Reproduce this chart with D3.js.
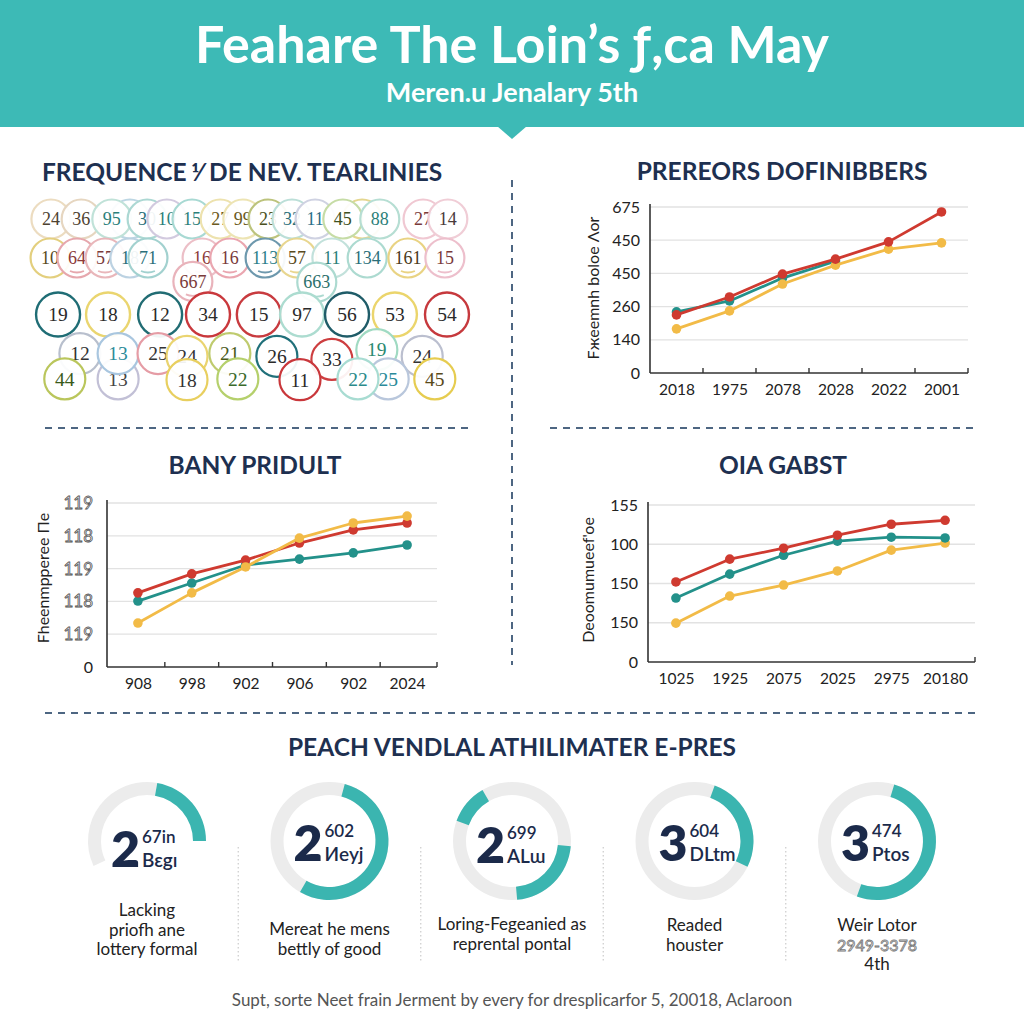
<!DOCTYPE html>
<html><head><meta charset="utf-8">
<script src="https://cdn.jsdelivr.net/npm/d3@7"></script>
<style>body{margin:0;background:#fff}svg{display:block}</style>
</head><body>
<svg id="c" width="1024" height="1024"></svg>
<script>
// ---------- DATA ----------
const titleText = "Feahare The Loin’s ƒ,ca May";
const subtitleText = "Meren.u Jenalary 5th";
const sectionTitles = ["FREQUENCE ⅟ DE NEV. TEARLINIES", "PREREORS DOFINIBBERS", "BANY PRIDULT", "OIA GABST", "PEACH VENDLAL ATHILIMATER E-PRES"];
const footerText = "Supt, sorte Neet frain Jerment by every for dresplicarfor 5, 20018, Aclaroon";

// bubbles (drawing order): label, column position (0-100), row position, ring colour, text colour, size class
const bubbleLabels = ["","","24","36","95","30","10","15","27","99","23","32","11","45","88","27","14",
  "10","64","57","18","71","16","16","113","57","11","134","161","15","667","663",
  "19","18","12","34","15","97","56","53","54",
  "13","12","13","25","24","21","26","33","19","24",
  "44","18","22","11","25","22","45"];
const bubbleCols = [21.4,76.7,2.6,9.8,17.1,25.5,30.2,36.2,42.9,48.3,54.3,60,65.5,72.1,80.9,91.2,97.1,
  2.4,8.8,15.5,21.4,25.7,38.6,45.2,53.6,61.2,69.5,77.9,87.6,96.4,36.4,65.9,
  4.3,16.2,28.6,40,52.1,62.4,73.1,84.5,96.9,
  18.6,9.5,18.6,28.1,35,45.2,56.4,69.5,80.2,91,
  5.9,35,47.1,61.9,82.9,75.7,94.0];
const bubbleRows = [0,0,0,0,0,0,0,0,0,0,0,0,0,0,0,0,0,
  1,1,1,1,1,1,1,1,1,1,1,1,1,1.6,1.62,
  2.45,2.45,2.45,2.45,2.45,2.45,2.45,2.45,2.45,
  4.1,3.45,3.45,3.45,3.52,3.45,3.52,3.6,3.35,3.52,
  4.1,4.12,4.1,4.12,4.1,4.1,4.1];
const bubbleRing = ["#bcd6e3","#e4d68f","#ecdcc0","#e6d6c0","#c0e2d8","#acd8d3","#d2cadf","#a8d9d3","#ede2ae","#ede4b3","#bcc37c","#bcdfd8","#cfd2e2","#c6dca6","#b6ded3","#f0c8d2","#f0cdd6",
  "#e3cf7e","#e6a7ad","#e9b6ba","#bcd2e2","#a2d1cf","#ecbfc7","#eaa6b0","#6d98ad","#e8d68f","#c2e1db","#acdad0","#e9d383","#edbfcc","#e9b3bb","#acdad0",
  "#1f6d75","#ead56f","#216c73","#c9383c","#c83b3f","#acdcd0","#1f5c68","#ebd56c","#c6393d",
  "#c2c0d6","#b8bfcd","#a9c6df","#e59ca5","#ead470","#bfcb6e","#20707a","#cd3e40","#a0dac2","#bbbfcf",
  "#bac65c","#e8cf5f","#b5d06c","#c9373b","#b9c7dc","#a8dcd2","#e6cc50"];
const bubbleInk = ["#333","#333","#4e4230","#4e4230","#2b7f7a","#2b6f7a","#2b7f7a","#2b7f7a","#6b5a20","#6b5a20","#4a5020","#2b6f7a","#2b6f8a","#3e5020","#2b7f7a","#7a3a3a","#4a3a3a",
  "#5a4a20","#8b3a3a","#7a3a3a","#2b6f7a","#2b6f7a","#8b3a3a","#7a3a3a","#2b7f8a","#5a4a20","#2b7f7a","#2b6f7a","#4a3a20","#7a3a3a","#7a3a3a","#2b6f6a",
  "#2a2a2a","#2a2a2a","#2a2a2a","#2a2a2a","#2a2a2a","#2a2a2a","#2a2a2a","#2a2a2a","#2a2a2a",
  "#444","#333","#2b8c9a","#333","#333","#4a5a1a","#2a2a2a","#2a2a2a","#2a8a70","#333",
  "#3a5a1a","#333","#3a6a2a","#2a2a2a","#2a8a9a","#2a8a8a","#5a4a1a"];
const bubbleSize = [0,0,0,0,0,0,0,0,0,0,0,0,0,0,0,0,0,
  0,0,0,0,0,0,0,0,0,0,0,0,0,0,0,
  2,2,2,2,2,2,2,2,2,
  1,1,1,1,1,1,1,1,1,1,
  1,1,1,1,1,1,1];

// top-right chart
const trCategories = ["2018","1975","2078","2028","2022","2001"];
const trTickLabels = ["0","140","260","450","450","675"];
const trRed = [1.75,2.29,2.98,3.43,3.95,4.85];
const trTeal = [1.84,2.17,2.86,3.37,null,null];
const trYellow = [1.33,1.87,2.68,3.25,3.73,3.92];
const trYTitle = "Fжeemnh boloe  Λor";

// bottom-left chart
const blCategories = ["908","998","902","906","902","2024"];
const blTickLabels = ["0","119","118","119","118","119"];
const blRed = [2.26,2.84,3.26,3.78,4.18,4.39];
const blTeal = [2.01,2.56,3.11,3.29,3.48,3.72];
const blYellow = [1.34,2.26,3.05,3.93,4.39,4.60];
const blYTitle = "Fheenmpperee Πe";

// bottom-right chart
const brCategories = ["1025","1925","2075","2025","2975","20180"];
const brTickLabels = ["0","150","150","100","155"];
const brRed = [2.04,2.62,2.90,3.23,3.51,3.61];
const brTeal = [1.63,2.24,2.72,3.08,3.18,3.16];
const brYellow = [0.99,1.68,1.96,2.32,2.85,3.03];
const brYTitle = "Deoomumueef'oe";

// donuts
const donutBig = ["2","2","2","3","3"];
const donutSup = ["67in","602","699","604","474"];
const donutSub = ["Bɛgı","Иeyj","ALɯ","DLtm","Ptos"];
const donutArcs = [[[10,90]],[[15,210]],[[-70,-30],[95,175]],[[20,116]],[[17,200]]];
const donutTrack = [[-115,10],[0,360],[0,360],[0,360],[0,360]];
const donutCaptions = [["Lacking","priofh ane","lottery formal"],["Mereat he mens","bettly of good"],["Loring-Fegeanied as","reprental pontal"],["Readed","houster"],["Weir Lotor","2949-3378","4th"]];

// ---------- STYLE ----------
const TEAL = "#3dbab6", NAVY = "#1e3050", RED = "#cf3a30", GREEN = "#23918a", YEL = "#f2bb47";
const FONT = "Lato, 'Open Sans', sans-serif";
const svg = d3.select("#c");

// ---------- HEADER ----------
svg.append("rect").attr("x",0).attr("y",0).attr("width",1024).attr("height",127).attr("fill",TEAL);
svg.append("path").attr("d","M497,126 L527,126 L512,139 Z").attr("fill",TEAL);
svg.append("text").attr("x",512).attr("y",63).attr("text-anchor","middle")
  .attr("font-family",FONT).attr("font-weight",700).attr("font-size",52).attr("fill","#fff").text(titleText);
svg.append("text").attr("x",512).attr("y",102).attr("text-anchor","middle")
  .attr("font-family",FONT).attr("font-weight",700).attr("font-size",27).attr("fill","#fff").text(subtitleText);

// ---------- DIVIDERS ----------
const dash = (x1,y1,x2,y2)=>svg.append("line").attr("x1",x1).attr("y1",y1).attr("x2",x2).attr("y2",y2)
  .attr("stroke","#4d6682").attr("stroke-width",2).attr("stroke-dasharray","7,6");
dash(512,180,512,665);
dash(45,428,470,428);
dash(550,428,978,428);
dash(45,713,978,713);

// ---------- SECTION TITLES ----------
const secT = (t,x,y,anchor)=>svg.append("text").attr("x",x).attr("y",y).attr("text-anchor",anchor)
  .attr("font-family",FONT).attr("font-weight",700).attr("font-size",24.5).attr("fill",NAVY).text(t);
secT(sectionTitles[0],42,181,"start");
secT(sectionTitles[1],782,180,"middle");
secT(sectionTitles[2],255,474,"middle");
secT(sectionTitles[3],783,474,"middle");
secT(sectionTitles[4],512,756,"middle");

// ---------- BUBBLES ----------
const bx = d3.scaleLinear().domain([0,100]).range([40,460]);
const by = d3.scaleLinear().domain([0,1]).range([219,258]);
const bR = [19.5,20.5,22];
const bubbles = bubbleLabels.map((l,i)=>({l, c:bubbleCols[i], r:bubbleRows[i], ring:bubbleRing[i], ink:bubbleInk[i], s:bubbleSize[i]}));
const bg = svg.append("g");
const bn = bg.selectAll("g").data(bubbles).join("g").attr("transform",d=>`translate(${bx(d.c)},${by(d.r)})`);
bn.append("circle").attr("r",d=>bR[d.s]).attr("fill","#fff").attr("fill-opacity",0.93)
  .attr("stroke",d=>d.ring).attr("stroke-width",d=>d.s===2?2.4:2.2);
bn.append("text").attr("text-anchor","middle").attr("dy","0.35em")
  .attr("font-family","'Liberation Serif', serif").attr("font-size",d=>d.s===0?18:19.5)
  .attr("fill",d=>d.ink).text(d=>d.l);
bn.filter((d,i)=>d.r>=1 && d.r<2 && ["64","57","71","16","113","161","15","667","663"].includes(d.l))
  .append("path").attr("d","M-7,13 Q0,16 7,13").attr("fill","none").attr("stroke",d=>d.ring).attr("stroke-width",1.8);

// ---------- LINE CHARTS ----------
function lineChart(cfg){
  const g = svg.append("g");
  const x = d3.scalePoint().domain(d3.range(cfg.cats.length)).range(cfg.xr).padding(0.5);
  const y = d3.scaleLinear().domain([0,cfg.ylabels.length-1]).range(cfg.yr);
  g.selectAll("line.grid").data(d3.range(1,cfg.ylabels.length)).join("line").attr("class","grid")
    .attr("x1",cfg.ax0).attr("x2",cfg.ax1).attr("y1",d=>y(d)).attr("y2",d=>y(d))
    .attr("stroke","#e2e2e2").attr("stroke-width",1.3);
  g.append("line").attr("x1",cfg.ax0).attr("x2",cfg.ax0).attr("y1",y(0)).attr("y2",y(cfg.ylabels.length-1)-3).attr("stroke","#333").attr("stroke-width",1.6);
  g.append("line").attr("x1",cfg.ax0).attr("x2",cfg.ax1).attr("y1",y(0)).attr("y2",y(0)).attr("stroke","#333").attr("stroke-width",1.6);
  if(cfg.midTicks){
    const st = x.step();
    g.selectAll("line.mt").data(d3.range(cfg.cats.length-1)).join("line").attr("class","mt")
      .attr("x1",d=>x(d)+st/2).attr("x2",d=>x(d)+st/2).attr("y1",y(0)-5).attr("y2",y(0))
      .attr("stroke","#333").attr("stroke-width",1.4);
  }
  g.append("line").attr("x1",cfg.ax1).attr("x2",cfg.ax1).attr("y1",y(0)-5).attr("y2",y(0)).attr("stroke","#333").attr("stroke-width",1.4);
  const xa = g.append("g").attr("transform",`translate(0,${y(0)})`)
    .call(d3.axisBottom(x).tickFormat(i=>cfg.cats[i]).tickSize(0).tickPadding(cfg.xpad));
  xa.select(".domain").remove();
  xa.selectAll("text").attr("font-family",FONT).attr("font-size",15.5).attr("fill","#222");
  const ya = g.append("g").attr("transform",`translate(${cfg.ax0},0)`)
    .call(d3.axisLeft(y).tickValues(d3.range(cfg.ylabels.length)).tickFormat(i=>cfg.ylabels[i]).tickSize(0).tickPadding(cfg.ypad));
  ya.select(".domain").remove();
  ya.selectAll("text").attr("font-family",FONT).attr("font-size",16).attr("fill","#222");
  if(cfg.hollow){
    ya.selectAll("text").filter(i=>i>0).attr("fill","#fff").attr("stroke","#555").attr("stroke-width",0.8).attr("font-size",17);
  }
  g.append("text").attr("transform",`translate(${cfg.tx},${cfg.ty}) rotate(-90)`).attr("text-anchor","middle")
    .attr("font-family",FONT).attr("font-size",16).attr("fill","#222").text(cfg.title);
  const line = d3.line().defined(d=>d!=null).x((d,i)=>x(i)).y(d=>y(d));
  cfg.series.forEach(s=>{
    g.append("path").datum(s.v).attr("d",line).attr("fill","none").attr("stroke",s.c).attr("stroke-width",2.8).attr("stroke-linejoin","round");
    g.selectAll(null).data(s.v.map((v,i)=>({v,i})).filter(d=>d.v!=null)).join("circle")
      .attr("cx",d=>x(d.i)).attr("cy",d=>y(d.v)).attr("r",cfg.pr).attr("fill",s.c);
  });
}
lineChart({cats:trCategories, ylabels:trTickLabels, xr:[650,968], yr:[373,207], ax0:650, ax1:968, xpad:11, ypad:10,
  midTicks:true, title:trYTitle, tx:599, ty:288, pr:4.8,
  series:[{v:trTeal,c:GREEN},{v:trYellow,c:YEL},{v:trRed,c:RED}]});
lineChart({cats:blCategories, ylabels:blTickLabels, xr:[111,434], yr:[667,503], ax0:107, ax1:437, xpad:11, ypad:14,
  midTicks:true, hollow:true, title:blYTitle, tx:49, ty:578, pr:4.8,
  series:[{v:blTeal,c:GREEN},{v:blRed,c:RED},{v:blYellow,c:YEL}]});
lineChart({cats:brCategories, ylabels:brTickLabels, xr:[649,972], yr:[662,505], ax0:648, ax1:975, xpad:11, ypad:10,
  midTicks:false, title:brYTitle, tx:594, ty:580, pr:4.8,
  series:[{v:brYellow,c:YEL},{v:brTeal,c:GREEN},{v:brRed,c:RED}]});

// ---------- DONUTS ----------
const dx = d3.scalePoint().domain(d3.range(5)).range([147,877]);
const dcy = 841;
const rad = a=>a*Math.PI/180;
const arc = d3.arc().innerRadius(46).outerRadius(59);
const dShift = [6,0,2,0,0];
const capStart = [916,935,930,931,931];
svg.selectAll("line.sep").data(d3.range(4)).join("line").attr("class","sep")
  .attr("x1",i=>(dx(i)+dx(i+1))/2).attr("x2",i=>(dx(i)+dx(i+1))/2).attr("y1",847).attr("y2",963)
  .attr("stroke","#cfcfcf").attr("stroke-width",1.3).attr("stroke-dasharray","1.5,2.5");
d3.range(5).forEach(i=>{
  const g = svg.append("g").attr("transform",`translate(${dx(i)},${dcy})`);
  g.append("path").attr("d",arc({startAngle:rad(donutTrack[i][0]),endAngle:rad(donutTrack[i][1])})).attr("fill","#ececec");
  donutArcs[i].forEach(a=>g.append("path").attr("d",arc({startAngle:rad(a[0]),endAngle:rad(a[1])})).attr("fill","#3bb5b0"));
  const sh = dShift[i];
  g.append("text").attr("x",-7).attr("y",20+sh).attr("text-anchor","end").attr("font-family",FONT).attr("font-weight",800)
    .attr("font-size",50).attr("fill","#1b2a4a").text(donutBig[i]);
  g.append("text").attr("x",-5).attr("y",-4+sh).attr("font-family",FONT).attr("font-weight",600)
    .attr("font-size",17).attr("fill","#1b2a4a").text(donutSup[i]);
  g.append("text").attr("x",-5).attr("y",20+sh).attr("font-family",FONT).attr("font-weight",600)
    .attr("font-size",19).attr("fill","#1b2a4a").text(donutSub[i]);
  donutCaptions[i].forEach((t,j)=>{
    const tt = svg.append("text").attr("x",dx(i)).attr("y",capStart[i]+j*19.5).attr("text-anchor","middle")
      .attr("font-family",FONT).attr("font-size",17).attr("fill","#222").text(t);
    if(/^\d{4}-\d{4}$/.test(t)) tt.attr("fill","#eee").attr("stroke","#777").attr("stroke-width",0.8).attr("font-size",16);
  });
});

// ---------- FOOTER ----------
svg.append("text").attr("x",512).attr("y",1006).attr("text-anchor","middle").attr("font-family",FONT)
  .attr("font-size",17).attr("fill","#555").text(footerText);
</script>
</body></html>
